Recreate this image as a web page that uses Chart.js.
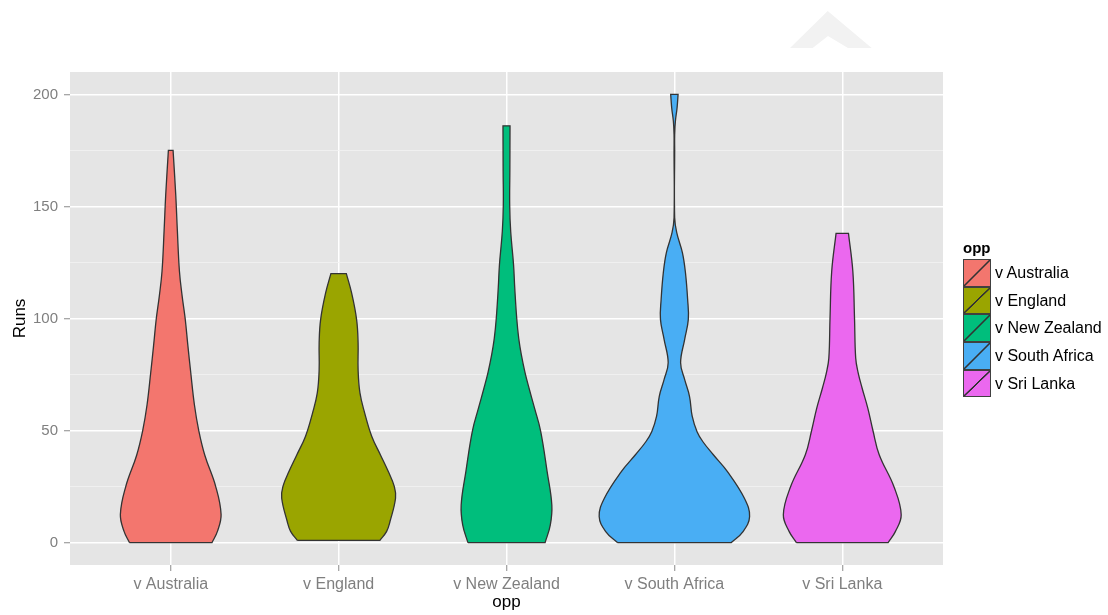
<!DOCTYPE html>
<html>
<head>
<meta charset="utf-8">
<script src="https://cdn.jsdelivr.net/npm/chart.js@4"></script>
<style>
  body { margin: 0; background: #ffffff; font-family: "Liberation Sans", Arial, sans-serif; }
  #wrap { position: relative; width: 1108px; height: 615px; }
  #chevron { position: absolute; left: 790px; top: 11px; }
  #legend { position: absolute; left: 963px; top: 238px; }
  #legend .title { font-weight: bold; font-size: 15px; height: 20px; line-height: 20px; margin-bottom: 1px; }
  #legend .row { display: flex; align-items: center; height: 27.7px; }
  #legend .key { box-sizing: border-box; width: 28px; height: 27.7px; border: 1px solid #404040; }
  #legend .lab { font-size: 16px; margin-left: 4px; color: #000; }
</style>
</head>
<body>
<div id="wrap">
  <canvas id="violinChart" width="1108" height="615"></canvas>
  <svg id="chevron" width="82" height="38">
    <polygon points="0,37 37.7,0 81.7,37 58,37 38,25 22.7,37" fill="#f2f2f2"></polygon>
  </svg>
  <div id="legend"></div>
</div>
<script>
// categories and axis ticks
const categories = ["v Australia", "v England", "v New Zealand", "v South Africa", "v Sri Lanka"];
const yMajorTicks = [0, 50, 100, 150, 200];
const yMinorTicks = [25, 75, 125, 175];

// violin outlines: runs level and half width (in category units)
const ausRuns  = [0, 5, 12.5, 25, 39, 50, 61.5, 76, 88, 100, 110, 121, 140, 155, 175];
const ausWidth = [0.246, 0.278, 0.300, 0.268, 0.203, 0.167, 0.141, 0.119, 0.102, 0.086, 0.068, 0.052, 0.039, 0.030, 0.014];

const engRuns  = [1, 5, 9.4, 19.8, 25, 31.7, 39, 47.5, 57.9, 66.8, 77.2, 89.2, 99.6, 111.5, 120];
const engWidth = [0.246, 0.286, 0.306, 0.339, 0.332, 0.296, 0.250, 0.197, 0.155, 0.127, 0.116, 0.116, 0.107, 0.077, 0.046];

const nzRuns  = [0, 7.9, 16.8, 31.7, 49.9, 60, 69, 76, 84, 91, 100, 113.8, 124, 138.8, 150.7, 165.6, 186];
const nzWidth = [0.230, 0.261, 0.270, 0.242, 0.203, 0.167, 0.134, 0.110, 0.088, 0.073, 0.061, 0.049, 0.042, 0.025, 0.019, 0.020, 0.021];

const saRuns  = [0, 4.9, 11.6, 19.8, 31.7, 39.2, 45, 49.5, 56.4, 65.3, 72.8, 80.2, 90.6, 99.6, 108.5, 120.4, 129.3, 138.3, 145, 175, 182, 188, 194, 200];
const saWidth = [0.339, 0.409, 0.448, 0.417, 0.316, 0.232, 0.170, 0.135, 0.106, 0.090, 0.061, 0.037, 0.061, 0.083, 0.079, 0.066, 0.048, 0.014, 0.002, 0.002, 0.002, 0.006, 0.016, 0.022];

const slRuns  = [0, 4.9, 12.4, 24.9, 39.2, 49.9, 60, 69, 76, 82.3, 100, 121, 138];
const slWidth = [0.273, 0.316, 0.351, 0.308, 0.220, 0.183, 0.152, 0.118, 0.094, 0.080, 0.073, 0.063, 0.037];

const fillColors = ["#F3766E", "#9AA500", "#00BE7C", "#49AEF4", "#EB68EF"];

const runsList = [ausRuns, engRuns, nzRuns, saRuns, slRuns];
const widthList = [ausWidth, engWidth, nzWidth, saWidth, slWidth];

// outline goes up the left side and down the right side; end points are doubled so the flat ends stay straight
function violinPoints(center, runs, widths) {
    let left = runs.map((r, i) => ({ x: center - widths[i], y: r }));
    let right = runs.map((r, i) => ({ x: center + widths[i], y: r })).reverse();
    let n = runs.length;
    return [left[0], left[0]]
        .concat(left.slice(1, n - 1))
        .concat([left[n - 1], left[n - 1], right[0], right[0]])
        .concat(right.slice(1, n - 1))
        .concat([right[n - 1], right[n - 1], left[0], left[0]]);
}

const fontFamily = "'Liberation Sans', Arial, sans-serif";

const panelBackground = {
    id: "panelBackground",
    beforeDraw(chart) {
        const { ctx, chartArea } = chart;
        ctx.save();
        ctx.fillStyle = "#E5E5E5";
        ctx.fillRect(chartArea.left, chartArea.top, chartArea.right - chartArea.left, chartArea.bottom - chartArea.top);
        ctx.restore();
    }
};

const isMajor = ctx => ctx.tick && yMajorTicks.includes(ctx.tick.value);

new Chart(document.getElementById("violinChart"), {
    type: "scatter",
    data: {
        datasets: categories.map((name, i) => ({
            label: name,
            data: violinPoints(i + 1, runsList[i], widthList[i]),
            showLine: true,
            fill: "shape",
            backgroundColor: fillColors[i],
            borderColor: "#333333",
            borderWidth: 1.3,
            pointRadius: 0,
            pointHoverRadius: 0,
            tension: 0.4
        }))
    },
    options: {
        responsive: false,
        animation: false,
        events: [],
        layout: { padding: { left: 10, right: 165, top: 72, bottom: 0 } },
        plugins: {
            legend: { display: false },
            tooltip: { enabled: false }
        },
        scales: {
            x: {
                type: "linear",
                min: 0.4,
                max: 5.6,
                afterBuildTicks: scale => { scale.ticks = categories.map((c, i) => ({ value: i + 1 })); },
                afterFit: scale => { scale.height = 50; },
                border: { display: false },
                grid: { color: "#FFFFFF", lineWidth: 1.5, tickColor: "#8A8A8A", tickLength: 6, tickWidth: 1 },
                ticks: {
                    callback: value => categories[value - 1],
                    color: "#7F7F7F",
                    font: { size: 16, family: fontFamily },
                    padding: 4,
                    maxRotation: 0,
                    autoSkip: false
                },
                title: {
                    display: true,
                    text: "opp",
                    color: "#000000",
                    font: { size: 17, family: fontFamily },
                    padding: { top: 0, bottom: 2 }
                }
            },
            y: {
                type: "linear",
                min: -10,
                max: 210,
                afterBuildTicks: scale => {
                    scale.ticks = yMajorTicks.concat(yMinorTicks).sort((a, b) => a - b).map(v => ({ value: v }));
                },
                afterFit: scale => { scale.width = 60; },
                border: { display: false },
                grid: {
                    color: ctx => isMajor(ctx) ? "#FFFFFF" : "#F2F2F2",
                    lineWidth: ctx => isMajor(ctx) ? 1.5 : 0.8,
                    tickColor: ctx => isMajor(ctx) ? "#8A8A8A" : "rgba(0,0,0,0)",
                    tickLength: 6,
                    tickWidth: 1
                },
                ticks: {
                    callback: value => yMajorTicks.includes(value) ? String(value) : "",
                    color: "#7F7F7F",
                    font: { size: 15, family: fontFamily },
                    padding: 6
                },
                title: {
                    display: true,
                    text: "Runs",
                    color: "#000000",
                    font: { size: 17, family: fontFamily },
                    padding: { top: 0, bottom: 0 }
                }
            }
        }
    },
    plugins: [panelBackground]
});

// legend in the ggplot style: filled key with a diagonal stroke
let legend = document.getElementById("legend");
legend.innerHTML = '<div class="title">opp</div>' + categories.map((name, i) => {
    let c = fillColors[i];
    let bg = "linear-gradient(to bottom right, " + c + " calc(50% - 1px), #333 calc(50% - 0.5px), #333 calc(50% + 0.5px), " + c + " calc(50% + 1px))";
    return '<div class="row"><div class="key" style="background:' + bg + '"></div><span class="lab">' + name + '</span></div>';
}).join("");
</script>
</body>
</html>
